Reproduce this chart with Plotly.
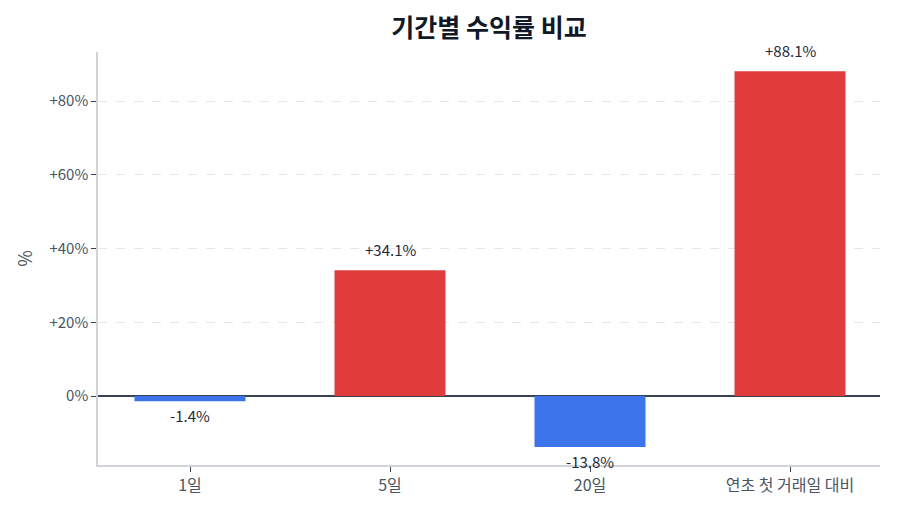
import plotly.graph_objects as go

categories = ["1일", "5일", "20일", "연초 첫 거래일 대비"]
returns = [-1.4, 34.1, -13.8, 88.1]
tick_vals = [0, 20, 40, 60, 80]
tick_text = ["0%", "+20%", "+40%", "+60%", "+80%"]

RED = "#E03C3C"
BLUE = "#3B74EB"
colors = [RED if v >= 0 else BLUE for v in returns]
labels = [f"{v:+.1f}%" for v in returns]

font = "Noto Sans CJK KR"

fig = go.Figure(go.Bar(
    x=categories, y=returns, marker=dict(color=colors, line=dict(width=0)),
    width=0.555, hoverinfo="x+y",
))

for c, v, t in zip(categories, returns, labels):
    fig.add_annotation(
        x=c, y=v, text=t, showarrow=False,
        yanchor="bottom" if v >= 0 else "top",
        yshift=8 if v >= 0 else -2,
        font=dict(size=15, color="#1f2937", family=font),
    )

fig.update_layout(
    width=900, height=514,
    margin=dict(l=98, r=20, t=52, b=49),
    paper_bgcolor="white", plot_bgcolor="white",
    font=dict(family=font, color="#4b5563", size=15),
    title=dict(text="<b>기간별 수익률 비교</b>", x=0.5, xref="paper", xanchor="center",
               y=0.945, yanchor="middle",
               font=dict(size=25, color="#111827", family=font)),
    showlegend=False,
)
fig.update_xaxes(
    range=[-0.46, 3.45], showline=True, linecolor="#d1d5db", linewidth=1.5,
    ticks="outside", ticklen=5, tickcolor="#374151", showgrid=False,
    tickfont=dict(size=16, color="#4b5563"),
)
fig.update_yaxes(
    range=[-18.7, 93.3], showline=True, linecolor="#d1d5db", linewidth=1.5,
    ticks="outside", ticklen=5, tickcolor="#374151",
    tickvals=tick_vals, ticktext=tick_text,
    showgrid=True, gridcolor="#e5e7eb", griddash="dash", gridwidth=1,
    zeroline=True, zerolinecolor="#374151", zerolinewidth=1.5,
    title=dict(text="%", font=dict(size=18, color="#4b5563"), standoff=12),
    tickfont=dict(size=15, color="#4b5563"),
)

fig.write_html("out.html")
